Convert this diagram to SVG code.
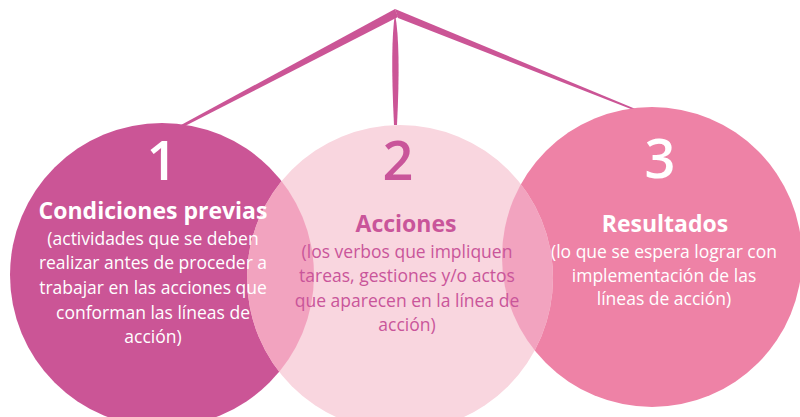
<svg xmlns="http://www.w3.org/2000/svg" width="800" height="417" viewBox="0 0 800 417">
<style>
.num{font-family:"Open Sans","Liberation Sans",sans-serif;font-weight:600;font-size:54px;text-anchor:middle}
.ttl{font-family:"Open Sans","Liberation Sans",sans-serif;font-weight:700;font-size:23px;text-anchor:middle}
.body{font-family:"Open Sans","Liberation Sans",sans-serif;font-size:17.5px;text-anchor:middle}
.w{fill:#ffffff}
.p{fill:#C9559A}
</style>
<defs>
<clipPath id="c2"><circle cx="400" cy="278" r="153"/></clipPath>
</defs>
<g id="connectors" fill="#CB5596">
<polygon points="395,9 398,17 185,126 181,125"/>
<polygon points="395,9 638,110 636,111 398,18"/>
<path d="M395,14 Q401,45 397,125 L394,125 Q390,45 395,14 Z"/>
</g>
<g id="node1">
<circle cx="162" cy="275" r="152" fill="#CB5596"/>
</g>
<g id="node3">
<circle cx="652" cy="257" r="150" fill="#EE82A6"/>
</g>
<g id="node2">
<circle cx="400" cy="278" r="153" fill="#F9D6DF"/>
<g clip-path="url(#c2)">
<circle cx="162" cy="275" r="152" fill="#F2A3BF"/>
<circle cx="652" cy="257" r="150" fill="#F2A3BF"/>
</g>
</g>
<g id="text1" class="w">
<text class="num" x="162" y="180">1</text>
<text class="ttl" x="153" y="219">Condiciones previas</text>
<text class="body" x="153" y="245">(actividades que se deben</text>
<text class="body" x="153" y="269">realizar antes de proceder a</text>
<text class="body" x="153" y="294">trabajar en las acciones que</text>
<text class="body" x="153" y="319">conforman las líneas de</text>
<text class="body" x="153" y="343">acción)</text>
</g>
<g id="text2" class="p">
<text class="num" x="398" y="180">2</text>
<text class="ttl" x="406" y="232">Acciones</text>
<text class="body" x="407" y="258">(los verbos que impliquen</text>
<text class="body" x="407" y="282">tareas, gestiones y/o actos</text>
<text class="body" x="407" y="307">que aparecen en la línea de</text>
<text class="body" x="407" y="331">acción)</text>
</g>
<g id="text3" class="w">
<text class="num" x="660" y="178">3</text>
<text class="ttl" x="665" y="232">Resultados</text>
<text class="body" x="664" y="258">(lo que se espera lograr con</text>
<text class="body" x="664" y="282">implementación de las</text>
<text class="body" x="664" y="305">líneas de acción)</text>
</g>
</svg>
